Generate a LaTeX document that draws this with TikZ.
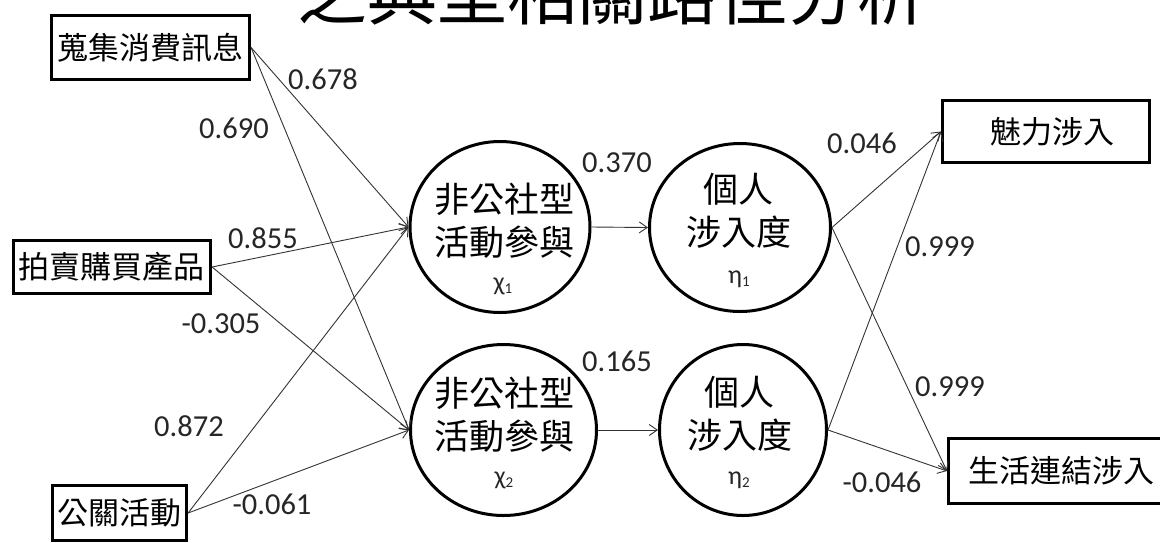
\documentclass[tikz,border=0pt]{standalone}
\usepackage{fontspec}
\setmainfont{Carlito}
\newfontfamily\cjk{Noto Sans CJK TC}
\usetikzlibrary{shapes.geometric,arrows.meta}
\newcommand\symsub[2]{#1\raisebox{-3.5pt}{\fontsize{15}{15}\selectfont #2}}
\begin{document}
\begin{tikzpicture}[x=1pt,y=-1pt,
  obsbox/.style={draw, line width=3.2pt, rectangle, inner sep=0pt, font=\cjk\fontsize{31}{31}\selectfont},
  latent/.style={draw, ellipse, line width=3pt, inner sep=0pt},
  cjktext/.style={font=\cjk\fontsize{35}{43}\selectfont, align=center, inner sep=0pt},
  symtext/.style={font=\fontsize{26}{26}\selectfont, inner sep=0pt, text=black!85},
  arr/.style={-{Straight Barb[length=8pt,width=11pt]}, line width=0.9pt, draw=black!80},
  num/.style={font=\fontsize{30.5}{30.5}\selectfont, text=black!85, inner sep=0pt}]
\useasboundingbox (0,0) rectangle (1160,542);
\clip (0,0) rectangle (1160,542);
\fill[white] (0,0) rectangle (1160,542);

% title (top cut off, as in the reference)
\node[font=\cjk\fontsize{70}{70}\selectfont, anchor=base, inner sep=0pt] (title) at (612,19) {之典型相關路徑分析};

% observed boxes
\node[obsbox, minimum width=198pt, minimum height=64pt] (b1) at (150.5,47.5) {蒐集消費訊息};
\node[obsbox, minimum width=197pt, minimum height=53pt] (b2) at (112,267) {拍賣購買產品};
\node[obsbox, minimum width=134pt, minimum height=55pt] (b3) at (119.5,513) {公關活動};
\node[obsbox, minimum width=207pt, minimum height=62pt] (b4) at (1046,131.5) {\hspace*{12pt}魅力涉入};
\node[obsbox, minimum width=226pt, minimum height=65pt] (b5) at (1061.5,471) {生活連結涉入};

% latent ellipses
\node[latent, minimum width=180pt, minimum height=171pt] (x1) at (500,227) {};
\node[latent, minimum width=181pt, minimum height=168pt] (h1) at (740,227.5) {};
\node[latent, minimum width=186pt, minimum height=171pt] (x2) at (503.5,430) {};
\node[latent, minimum width=167pt, minimum height=171pt] (h2) at (743,430) {};

% texts inside ellipses
\node[cjktext] (x1t) at (504,220.5) {非公社型\\活動參與};
\node[symtext] (x1s) at (503,286) {\symsub{χ}{1}};
\node[cjktext] (h1t) at (738.5,210.5) {個人\\涉入度};
\node[symtext] (h1s) at (739,279) {\symsub{η}{1}};
\node[cjktext] (x2t) at (504,414.5) {非公社型\\活動參與};
\node[symtext] (x2s) at (504,480) {\symsub{χ}{2}};
\node[cjktext] (h2t) at (739.5,414) {個人\\涉入度};
\node[symtext] (h2s) at (739,480) {\symsub{η}{2}};

% connectors
\draw[arr] (b1.east) -- (x1.west);
\draw[arr] (b1.east) -- (x2.west);
\draw[arr] (b2.east) -- (x1.west);
\draw[arr] (b2.east) -- (x2.west);
\draw[arr] (b3.east) -- (x1.west);
\draw[arr] (b3.east) -- (x2.west);
\draw[arr] (x1.east) -- (h1.west);
\draw[arr] (x2.east) -- (h2.west);
\draw[arr] (h1.east) -- (b4.west);
\draw[arr] (h1.east) -- (b5.west);
\draw[arr] (h2.east) -- (b4.west);
\draw[arr] (h2.east) -- (b5.west);

% coefficients
\node[num] (n1) at (323,79) {0.678};
\node[num] (n2) at (234,128) {0.690};
\node[num] (n3) at (263,238) {0.855};
\node[num] (n4) at (221,324) {-0.305};
\node[num] (n5) at (189,426) {0.872};
\node[num] (n6) at (272,504) {-0.061};
\node[num] (n7) at (617,163) {0.370};
\node[num] (n8) at (617,361) {0.165};
\node[num] (n9) at (862,143) {0.046};
\node[num] (n10) at (940,247) {0.999};
\node[num] (n11) at (950,387) {0.999};
\node[num] (n12) at (882,482) {-0.046};
\end{tikzpicture}
\end{document}
